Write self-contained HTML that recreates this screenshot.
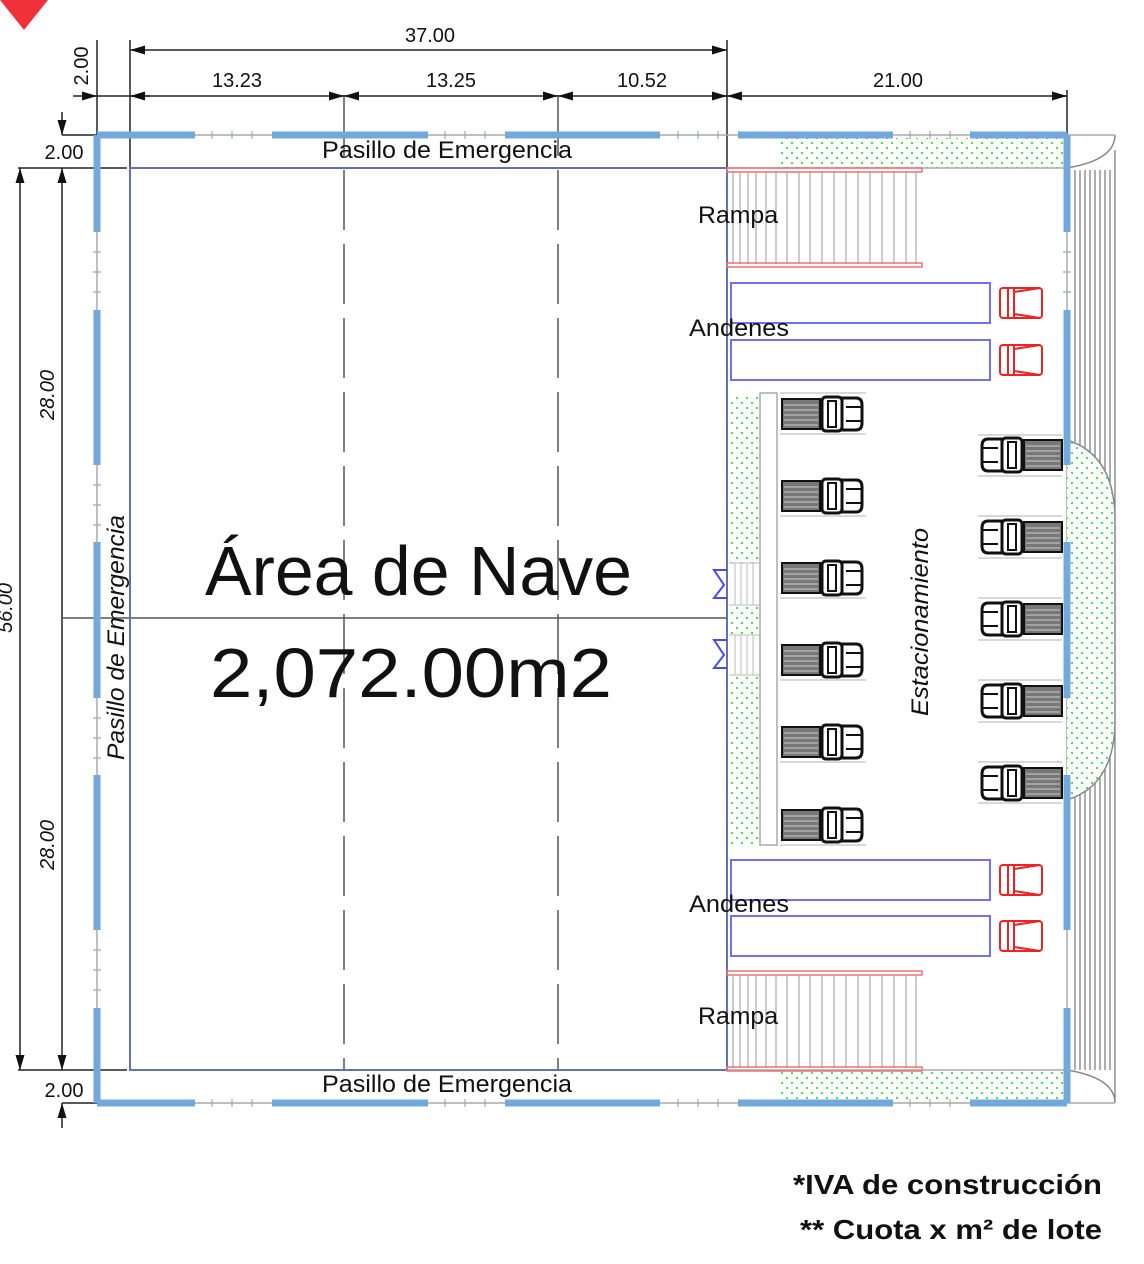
<!DOCTYPE html>
<html><head><meta charset="utf-8"><style>
html,body{margin:0;padding:0;background:#fff;width:1144px;height:1264px;overflow:hidden}
svg{display:block}
text{font-family:"Liberation Sans",sans-serif;fill:#111}
</style></head><body>
<svg width="1144" height="1264" viewBox="0 0 1144 1264" xmlns="http://www.w3.org/2000/svg">
<defs>
<pattern id="dots" width="10" height="10" patternUnits="userSpaceOnUse">
<rect x="1" y="2" width="2" height="2" fill="#4ee04e"/><rect x="6" y="7" width="2" height="2" fill="#4ee04e"/>
</pattern>
<g id="truckR">
<rect x="0" y="2" width="38" height="30" fill="#777" stroke="#111" stroke-width="2"/>
<path d="M2 8H36M2 13H36M2 18H36M2 23H36M2 28H36" stroke="#ccc" stroke-width="1"/>
<rect x="40" y="0" width="20" height="34" rx="4" fill="#fff" stroke="#111" stroke-width="3"/>
<rect x="46" y="4" width="8" height="26" fill="#fff" stroke="#111" stroke-width="2"/>
<path d="M60 1H74Q80 1 80 8V26Q80 33 74 33H60Z" fill="#fff" stroke="#111" stroke-width="3"/>
<path d="M64 10H79M64 24H79" stroke="#111" stroke-width="2"/>
</g>
<g id="truckL"><use href="#truckR" transform="translate(80,0) scale(-1,1)"/></g>
<g id="redtruck" fill="none" stroke="#ee2222" stroke-width="2">
<rect x="0" y="2" width="42" height="30" rx="3"/>
<path d="M8 2V32M14 2V32M14 6L40 2M14 28L40 32"/>
</g>
<marker id="ar" viewBox="0 0 10 6" refX="10" refY="3" markerWidth="10" markerHeight="6" orient="auto-start-reverse"><path d="M0 0L10 3L0 6Z" fill="#111"/></marker>
</defs>

<polygon points="0,0 48,0 24,30" fill="#f0313a"/>

<g stroke="#222" stroke-width="1.5" fill="none">
<line x1="130" y1="50" x2="727" y2="50" marker-start="url(#ar)" marker-end="url(#ar)"/>
<line x1="130" y1="40" x2="130" y2="168"/>
<line x1="727" y1="40" x2="727" y2="168"/>
<line x1="73" y1="96" x2="1067" y2="96"/>
<line x1="130" y1="96" x2="150" y2="96" marker-start="url(#ar)"/>
<line x1="330" y1="96" x2="344" y2="96" marker-end="url(#ar)"/>
<line x1="344" y1="96" x2="358" y2="96" marker-start="url(#ar)"/>
<line x1="544" y1="96" x2="558" y2="96" marker-end="url(#ar)"/>
<line x1="558" y1="96" x2="572" y2="96" marker-start="url(#ar)"/>
<line x1="713" y1="96" x2="727" y2="96" marker-end="url(#ar)"/>
<line x1="727" y1="96" x2="741" y2="96" marker-start="url(#ar)"/>
<line x1="1053" y1="96" x2="1067" y2="96" marker-end="url(#ar)"/>
<line x1="83" y1="96" x2="97" y2="96" marker-end="url(#ar)"/>
<line x1="97" y1="40" x2="97" y2="135"/>
<line x1="1067" y1="90" x2="1067" y2="135"/>
<line x1="20" y1="168" x2="20" y2="1070" marker-start="url(#ar)" marker-end="url(#ar)"/>
<line x1="62" y1="168" x2="62" y2="1070" marker-start="url(#ar)" marker-end="url(#ar)"/>
<line x1="18" y1="168" x2="127" y2="168"/>
<line x1="18" y1="1070" x2="127" y2="1070"/>
<line x1="62" y1="112" x2="62" y2="135" marker-end="url(#ar)"/>
<line x1="62" y1="135" x2="97" y2="135"/>
<line x1="62" y1="1103" x2="97" y2="1103"/>
<line x1="62" y1="1128" x2="62" y2="1103" marker-end="url(#ar)"/>
</g>
<g stroke="#555" stroke-width="1.5" fill="none">
<line x1="62" y1="618" x2="727" y2="618"/>
<line x1="344" y1="96" x2="344" y2="1070" stroke-dasharray="60,14"/>
<line x1="558" y1="96" x2="558" y2="1070" stroke-dasharray="60,14"/>
</g>

<g stroke="#aaa" stroke-width="1.5" fill="none">
<line x1="97" y1="135" x2="1115" y2="135"/>
<line x1="97" y1="1103" x2="1115" y2="1103"/>
<line x1="97" y1="135" x2="97" y2="1103"/>
<line x1="1067" y1="135" x2="1067" y2="1103"/>
<line x1="130" y1="168" x2="1067" y2="168"/>
<line x1="130" y1="1070" x2="1067" y2="1070"/>
</g>

<rect x="130" y="168" width="597" height="902" fill="none" stroke="#6670b0" stroke-width="2"/>

<rect x="778" y="138" width="285" height="30" fill="url(#dots)"/>
<rect x="778" y="1070" width="285" height="30" fill="url(#dots)"/>
<rect x="729" y="395" width="31" height="450" fill="url(#dots)"/>
<rect x="729" y="563" width="31" height="42" fill="#fff"/>
<rect x="729" y="635" width="31" height="40" fill="#fff"/>
<g stroke="#bbb" stroke-width="1">
<path d="M735 563V605M741 563V605M747 563V605M753 563V605M735 635V675M741 635V675M747 635V675M753 635V675"/>
<line x1="729" y1="563" x2="760" y2="563"/><line x1="729" y1="605" x2="760" y2="605"/>
<line x1="729" y1="635" x2="760" y2="635"/><line x1="729" y1="675" x2="760" y2="675"/>
</g>
<rect x="760" y="393" width="17" height="452" fill="none" stroke="#aaa" stroke-width="1.5"/>

<g stroke="#777" stroke-width="1.2">
<path d="M1075 170V1070M1080 170V1070M1085 170V1070M1090 170V1070M1095 170V1070M1100 170V1070M1105 170V1070M1110 170V1070M1115 150V1100"/>
</g>
<path d="M1067 440Q1115 455 1115 520V720Q1115 785 1067 800" fill="#fff" stroke="#888" stroke-width="1.5"/>
<path d="M1067 440Q1115 455 1115 520V720Q1115 785 1067 800Z" fill="url(#dots)"/>
<path d="M1067 168Q1115 160 1115 135" fill="#fff" stroke="#888" stroke-width="1.5"/>
<path d="M1067 1070Q1115 1078 1115 1103" fill="#fff" stroke="#888" stroke-width="1.5"/>

<g stroke="#73a8dc" stroke-width="7" fill="none">
<path d="M97 135H195M272 135H428M505 135H660M738 135H893M970 135H1067"/>
<path d="M97 1103H195M272 1103H428M505 1103H660M738 1103H893M970 1103H1067"/>
<path d="M97 135V232M97 310V465M97 542V698M97 775V930M97 1008V1103"/>
<path d="M1067 135V232M1067 310V465M1067 542V698M1067 775V930M1067 1008V1103"/>
</g>
<g stroke="#9ab" stroke-width="1.2">
<path d="M212 131V139M232 131V139M252 131V139M445 131V139M465 131V139M485 131V139M678 131V139M698 131V139M718 131V139M910 131V139M930 131V139M950 131V139"/>
<path d="M212 1099V1107M232 1099V1107M252 1099V1107M445 1099V1107M465 1099V1107M485 1099V1107M678 1099V1107M698 1099V1107M718 1099V1107M910 1099V1107M930 1099V1107M950 1099V1107"/>
<path d="M93 252H101M93 272H101M93 292H101M93 485H101M93 505H101M93 525H101M93 718H101M93 738H101M93 758H101M93 950H101M93 970H101M93 990H101"/>
<path d="M1063 252H1071M1063 272H1071M1063 292H1071"/>
</g>

<g stroke="#bbb" stroke-width="1.5">
<path d="M733 172V264M740 172V264M748 172V264M756 172V264M766 172V264M776 172V264M787 172V264M799 172V264M810 172V264M822 172V264M834 172V264M846 172V264M858 172V264M870 172V264M882 172V264M894 172V264M906 172V264M916 172V264"/>
<path d="M733 976V1068M740 976V1068M748 976V1068M756 976V1068M766 976V1068M776 976V1068M787 976V1068M799 976V1068M810 976V1068M822 976V1068M834 976V1068M846 976V1068M858 976V1068M870 976V1068M882 976V1068M894 976V1068M906 976V1068M916 976V1068"/>
</g>
<g fill="none" stroke="#f07070" stroke-width="1.5">
<rect x="727" y="168" width="195" height="4"/><rect x="727" y="263" width="195" height="4"/>
<rect x="727" y="971" width="195" height="4"/><rect x="727" y="1067" width="195" height="4"/>
</g>

<g fill="none" stroke="#7070f0" stroke-width="2">
<rect x="731" y="283" width="259" height="40"/><rect x="731" y="340" width="259" height="40"/>
<rect x="731" y="860" width="259" height="40"/><rect x="731" y="916" width="259" height="40"/>
</g>
<use href="#redtruck" x="1000" y="286"/><use href="#redtruck" x="1000" y="343"/>
<use href="#redtruck" x="1000" y="863"/><use href="#redtruck" x="1000" y="919"/>

<g fill="none" stroke="#4a4af0" stroke-width="2">
<path d="M727 570H714L724 585L714 598H727"/>
<path d="M727 640H714L724 655L714 668H727"/>
</g>

<g stroke="#ccc" stroke-width="1.5">
<path d="M780 393H866M780 434H866M780 516H866M780 598H866M780 680H866M780 762H866M780 845H866"/>
<path d="M978 435H1062M978 476H1062M978 516H1062M978 558H1062M978 598H1062M978 640H1062M978 680H1062M978 722H1062M978 762H1062M978 803H1062"/>
</g>
<use href="#truckR" x="782" y="397"/><use href="#truckR" x="782" y="479"/>
<use href="#truckR" x="782" y="561"/><use href="#truckR" x="782" y="643"/>
<use href="#truckR" x="782" y="725"/><use href="#truckR" x="782" y="808"/>
<use href="#truckL" x="982" y="438"/><use href="#truckL" x="982" y="520"/>
<use href="#truckL" x="982" y="602"/><use href="#truckL" x="982" y="684"/>
<use href="#truckL" x="982" y="766"/>

<g font-size="20">
<text x="430" y="42" text-anchor="middle">37.00</text>
<text x="237" y="87" text-anchor="middle">13.23</text>
<text x="451" y="87" text-anchor="middle">13.25</text>
<text x="642" y="87" text-anchor="middle">10.52</text>
<text x="898" y="87" text-anchor="middle">21.00</text>
<text x="64" y="159" text-anchor="middle">2.00</text>
<text x="64" y="1097" text-anchor="middle">2.00</text>
<text transform="translate(88,66) rotate(-90)" text-anchor="middle">2.00</text>
<text transform="translate(54,395) rotate(-90)" text-anchor="middle" font-style="italic">28.00</text>
<text transform="translate(54,845) rotate(-90)" text-anchor="middle" font-style="italic">28.00</text>
<text transform="translate(12,608) rotate(-90)" text-anchor="middle" font-style="italic">56.00</text>
</g>
<g font-size="24">
<text x="322" y="158" textLength="250" lengthAdjust="spacingAndGlyphs">Pasillo de Emergencia</text>
<text x="322" y="1092" textLength="250" lengthAdjust="spacingAndGlyphs">Pasillo de Emergencia</text>
<text transform="translate(124,760) rotate(-90)" font-style="italic" textLength="245" lengthAdjust="spacingAndGlyphs">Pasillo de Emergencia</text>
<text transform="translate(928,716) rotate(-90)" font-style="italic" textLength="188" lengthAdjust="spacingAndGlyphs">Estacionamiento</text>
<text x="698" y="223" textLength="80" lengthAdjust="spacingAndGlyphs">Rampa</text>
<text x="698" y="1024" textLength="80" lengthAdjust="spacingAndGlyphs">Rampa</text>
<text x="689" y="336" textLength="100" lengthAdjust="spacingAndGlyphs">Andenes</text>
<text x="689" y="912" textLength="100" lengthAdjust="spacingAndGlyphs">Andenes</text>
</g>
<text x="205" y="595" font-size="70" textLength="427" lengthAdjust="spacingAndGlyphs">Área de Nave</text>
<text x="210" y="697" font-size="70" textLength="402" lengthAdjust="spacingAndGlyphs">2,072.00m2</text>
<g font-size="28" font-weight="bold">
<text x="793" y="1194" textLength="309" lengthAdjust="spacingAndGlyphs">*IVA de construcción</text>
<text x="800" y="1239" textLength="302" lengthAdjust="spacingAndGlyphs">** Cuota x m² de lote</text>
</g>
</svg>
</body></html>
